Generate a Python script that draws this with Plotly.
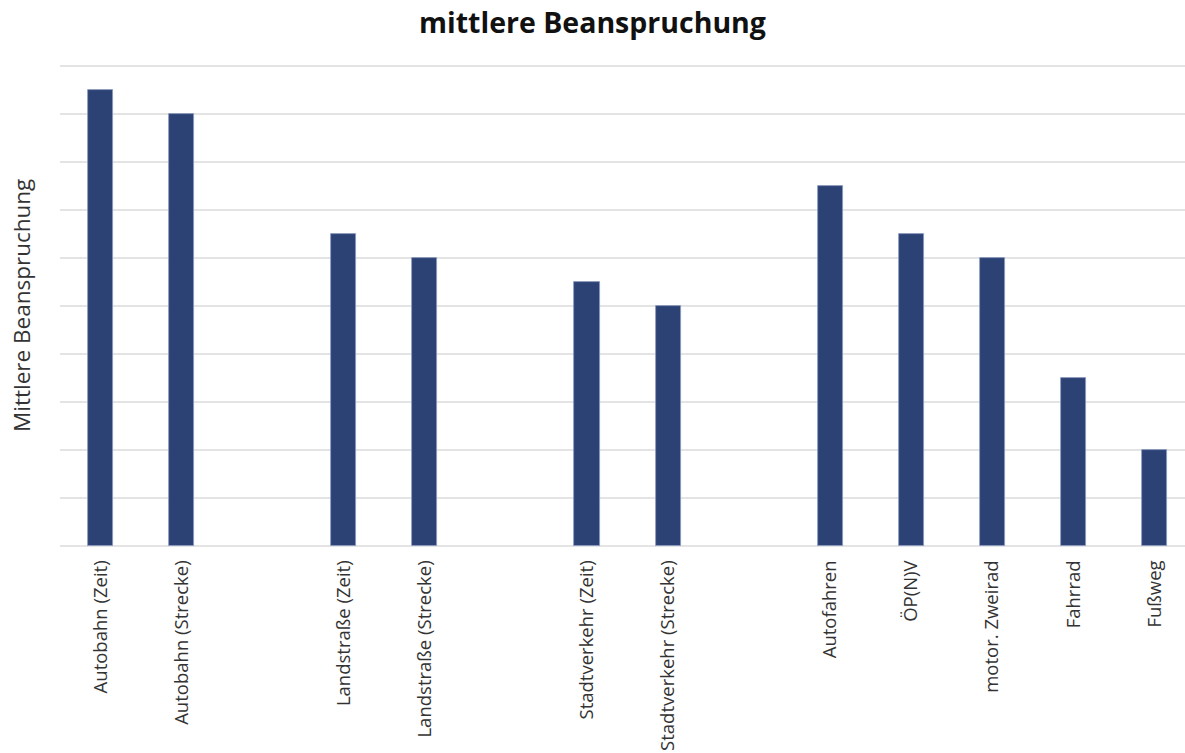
import plotly.graph_objects as go

categories = ["Autobahn (Zeit)", "Autobahn (Strecke)", "",
              "Landstraße (Zeit)", "Landstraße (Strecke)", "",
              "Stadtverkehr (Zeit)", "Stadtverkehr (Strecke)", "",
              "Autofahren", "ÖP(N)V", "motor. Zweirad", "Fahrrad", "Fußweg"]
values = [9.5, 9.0, None, 6.5, 6.0, None, 5.5, 5.0, None, 7.5, 6.5, 6.0, 3.5, 2.0]
y_title = "Mittlere Beanspruchung"
y_max = 10

xs = list(range(len(categories)))
bx = [x for x, v in zip(xs, values) if v is not None]
by = [v for v in values if v is not None]

fig = go.Figure(go.Bar(
    x=bx, y=by, width=0.31,
    marker=dict(color="#2d4274", line=dict(color="#8b9bc2", width=0.8)),
))

fig.update_layout(
    width=1185, height=753,
    paper_bgcolor="white", plot_bgcolor="white",
    margin=dict(l=60, r=0, t=52, b=207),
    title=dict(text="<b>mittlere Beanspruchung</b>", x=0.5, xanchor="center",
               y=0.97, yanchor="middle",
               font=dict(family="Open Sans", size=28.5, color="#111")),
    font=dict(family="Open Sans", color="#333"),
    showlegend=False,
    bargap=0,
)
fig.add_annotation(
    text=y_title, textangle=-90, showarrow=False,
    xref="paper", x=0, xanchor="center", xshift=-38,
    yref="y", y=y_max / 2, yanchor="middle",
    font=dict(family="Open Sans", size=22.5, color="#333"),
)
fig.update_xaxes(
    range=[-0.5, 13.375],
    tickmode="array",
    tickvals=[x for x, c in zip(xs, categories) if c],
    ticktext=[c for c in categories if c],
    tickangle=-90,
    tickfont=dict(family="Open Sans", size=18.5, color="#333"),
    ticks="outside", ticklen=6, tickcolor="rgba(0,0,0,0)",
    showgrid=False, zeroline=False, showline=False,
)
fig.update_yaxes(
    range=[0, 10.29], dtick=1,
    showticklabels=False,
    showgrid=True, gridcolor="#e4e4e4", gridwidth=1.5,
    zeroline=True, zerolinecolor="#e4e4e4", zerolinewidth=1.5,
)

fig.write_html("out.html")
